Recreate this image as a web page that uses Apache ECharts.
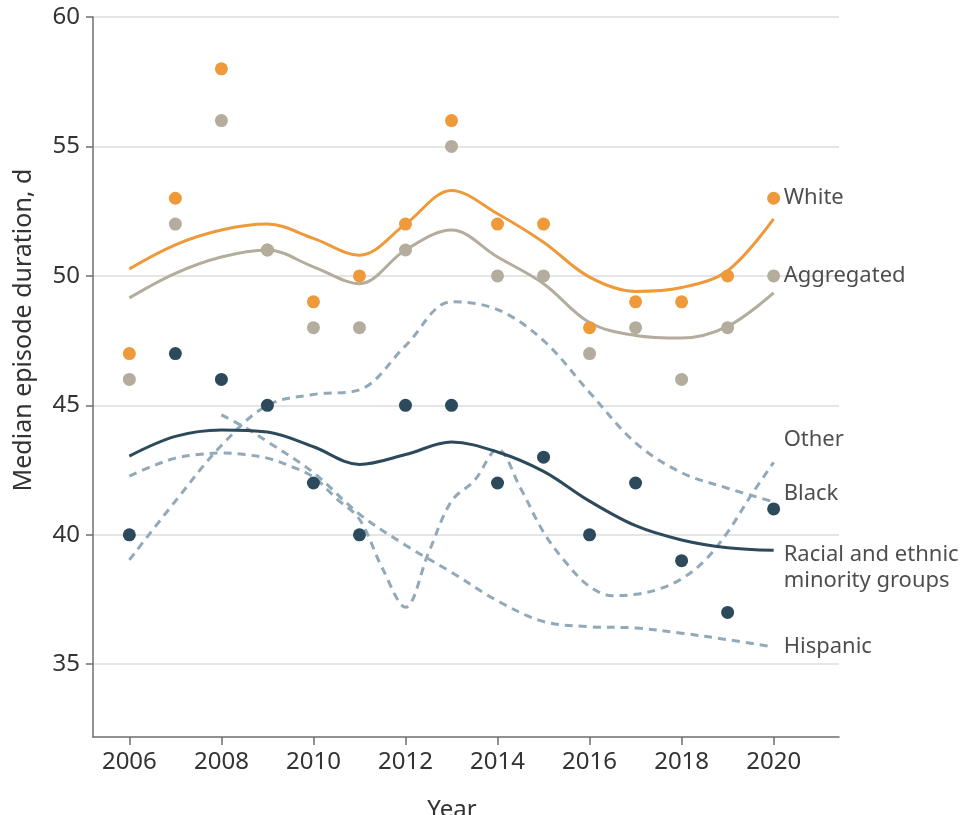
<!DOCTYPE html>
<html>
<head>
<meta charset="utf-8">
<script src="https://cdn.jsdelivr.net/npm/echarts@6/dist/echarts.min.js"></script>
<style>
  html, body { margin: 0; padding: 0; background: #fff; }
  #chart { width: 963px; height: 815px; }
</style>
</head>
<body>
<div id="chart"></div>
<script>
// observed medians by year
const years = [2006, 2007, 2008, 2009, 2010, 2011, 2012, 2013, 2014, 2015, 2016, 2017, 2018, 2019, 2020];
const whitePts = [47, 53, 58, 51, 49, 50, 52, 56, 52, 52, 48, 49, 49, 50, 53];
const aggregatedPts = [46, 52, 56, 51, 48, 48, 51, 55, 50, 50, 47, 48, 46, 48, 50];
const minorityPts = [40, 47, 46, 45, 42, 40, 45, 45, 42, 43, 40, 42, 39, 37, 41];

// smoothed trends
const whiteTrend = [50.27, 51.2, 51.77, 52.0, 51.45, 50.8, 52.0, 53.3, 52.4, 51.3, 49.95, 49.4, 49.55, 50.2, 52.2];
const aggregatedTrend = [49.15, 50.1, 50.73, 51.0, 50.35, 49.7, 51.0, 51.77, 50.73, 49.7, 48.2, 47.7, 47.6, 48.05, 49.34];
const minorityTrend = [43.04, 43.8, 44.05, 43.97, 43.4, 42.72, 43.1, 43.58, 43.2, 42.45, 41.3, 40.35, 39.8, 39.5, 39.4];
const blackTrend = [39.03, 41.3, 43.45, 45.0, 45.42, 45.6, 47.3, 49.0, 48.7, 47.5, 45.5, 43.55, 42.4, 41.8, 41.27];

const otherYears = [2006, 2006.5, 2007, 2007.5, 2008, 2008.5, 2009, 2009.5, 2010, 2010.5, 2011, 2011.5, 2012,
  2012.5, 2013, 2013.5, 2014, 2014.5, 2015, 2015.5, 2016, 2016.5, 2017, 2017.5, 2018, 2018.5, 2019, 2019.5, 2020];
const otherTrend = [42.27, 42.65, 42.96, 43.1, 43.16, 43.1, 42.96, 42.65, 42.23, 41.4, 40.6, 38.7, 37.2,
  39.3, 41.3, 42.1, 43.3, 41.8, 40.1, 38.9, 38.0, 37.65, 37.7, 37.9, 38.3, 39.0, 40.1, 41.5, 42.8];

const hispanicYears = [2008, 2008.5, 2009, 2010, 2011, 2012, 2013, 2014, 2015, 2016, 2017, 2018, 2019, 2020];
const hispanicTrend = [44.63, 44.16, 43.6, 42.4, 40.8, 39.6, 38.55, 37.45, 36.65, 36.45, 36.4, 36.2, 35.95, 35.67];

const xTicks = [2006, 2008, 2010, 2012, 2014, 2016, 2018, 2020];
const yTicks = [35, 40, 45, 50, 55, 60];

// end labels: [x, y, text]
const endLabels = [
  [2020, 53.0, 'White'],
  [2020, 50.0, 'Aggregated'],
  [2020, 43.66, 'Other'],
  [2020, 41.57, 'Black'],
  [2020, 38.72, 'Racial and ethnic\nminority groups'],
  [2020, 35.67, 'Hispanic']
];

const ORANGE = '#EE9A3A';
const GRAY = '#B4AD9E';
const DARK = '#2C4A5B';
const DASH = '#91A9B8';
const FONT = 'Noto Sans';

const pair = (xs, ys) => xs.map((x, i) => [x, ys[i]]);

const chart = echarts.init(document.getElementById('chart'), null, { renderer: 'canvas' });

const trendLine = (name, xs, ys, color, width, dashed, z) => ({
  name,
  type: 'line',
  data: pair(xs, ys),
  smooth: 0.35,
  showSymbol: false,
  symbol: 'none',
  z,
  lineStyle: { color, width, type: dashed ? [8, 6] : 'solid' },
  silent: true
});

const dots = (name, ys, color, z) => ({
  name,
  type: 'scatter',
  data: pair(years, ys),
  symbolSize: 13,
  z,
  itemStyle: { color, opacity: 1 },
  silent: true
});

chart.setOption({
  animation: false,
  backgroundColor: '#fff',
  grid: { left: 93, right: 124, top: 17, bottom: 78, containLabel: false },
  xAxis: {
    type: 'value',
    min: 2005.21,
    max: 2021.42,
    axisLine: { show: true, lineStyle: { color: '#6e6e6e', width: 1.5 } },
    axisTick: { show: true, length: 8, customValues: xTicks, lineStyle: { color: '#6e6e6e', width: 1.5 } },
    axisLabel: {
      customValues: xTicks,
      margin: 13,
      color: '#333',
      fontFamily: FONT,
      fontSize: 24,
      formatter: (v) => String(v)
    },
    splitLine: { show: false }
  },
  yAxis: {
    type: 'value',
    min: 32.19,
    max: 60,
    axisLine: { show: true, lineStyle: { color: '#6e6e6e', width: 1.5 } },
    axisTick: { show: true, length: 7, customValues: yTicks, lineStyle: { color: '#6e6e6e', width: 1.5 } },
    axisLabel: {
      customValues: yTicks,
      margin: 13,
      color: '#333',
      fontFamily: FONT,
      fontSize: 24
    },
    splitLine: { show: true, lineStyle: { color: '#dcdcdc', width: 1.5 } }
  },
  graphic: [
    {
      type: 'text',
      x: 24,
      y: 330,
      rotation: Math.PI / 2,
      style: { text: 'Median episode duration, d', fill: '#333', font: '25px "Noto Sans"', align: 'center', verticalAlign: 'middle' }
    },
    {
      type: 'text',
      x: 452,
      y: 810,
      style: { text: 'Year', fill: '#333', font: '24px "Noto Sans"', align: 'center', verticalAlign: 'middle' }
    }
  ],
  series: [
    trendLine('Other', otherYears, otherTrend, DASH, 3, true, 2),
    trendLine('Black', years, blackTrend, DASH, 3, true, 2),
    trendLine('Hispanic', hispanicYears, hispanicTrend, DASH, 3, true, 2),
    trendLine('Racial and ethnic minority groups', years, minorityTrend, DARK, 3, false, 3),
    trendLine('Aggregated trend', years, aggregatedTrend, GRAY, 3, false, 3),
    trendLine('White trend', years, whiteTrend, ORANGE, 3, false, 3),
    dots('Minority points', minorityPts, DARK, 5),
    dots('White points', whitePts, ORANGE, 5),
    dots('Aggregated points', aggregatedPts, GRAY, 6),
    {
      name: 'labels',
      type: 'scatter',
      data: endLabels,
      symbolSize: 0,
      z: 7,
      silent: true,
      itemStyle: { color: 'transparent' },
      label: {
        show: true,
        position: 'right',
        distance: 10,
        formatter: (p) => p.data[2],
        color: '#222',
        fontFamily: FONT,
        fontSize: 22,
        lineHeight: 26
      }
    }
  ]
});
</script>
</body>
</html>
